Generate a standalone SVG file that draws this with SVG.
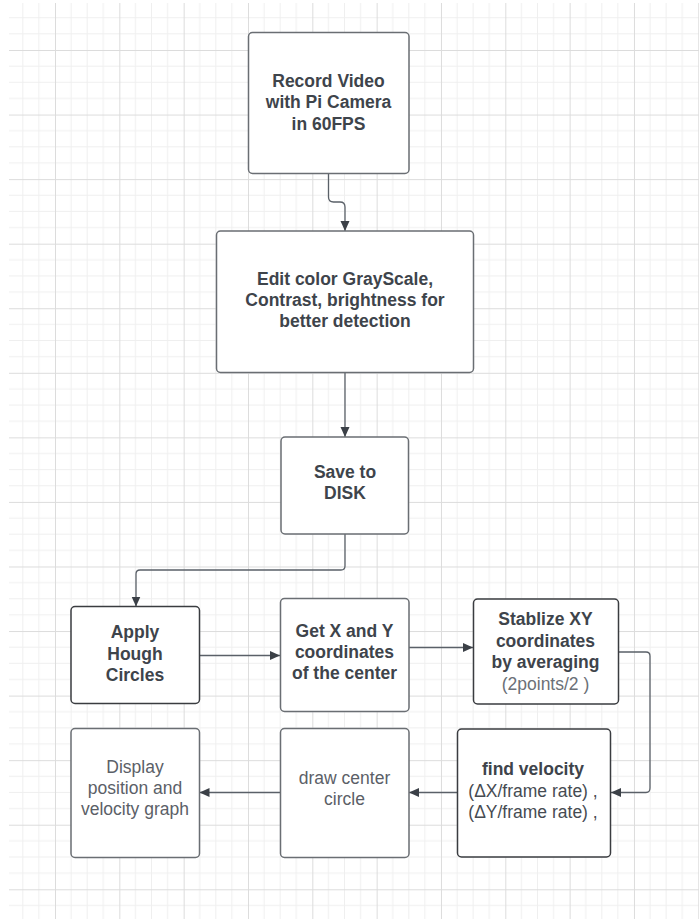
<svg xmlns="http://www.w3.org/2000/svg" width="699" height="919" viewBox="0 0 699 919">
  <defs>
    <pattern id="grid" patternUnits="userSpaceOnUse" x="55" y="50" width="64.33" height="64.56">
      <g stroke="#efefef" stroke-width="1">
        <line x1="16.08" y1="0" x2="16.08" y2="64.56"/>
        <line x1="32.17" y1="0" x2="32.17" y2="64.56"/>
        <line x1="48.25" y1="0" x2="48.25" y2="64.56"/>
        <line x1="0" y1="16.14" x2="64.33" y2="16.14"/>
        <line x1="0" y1="32.28" x2="64.33" y2="32.28"/>
        <line x1="0" y1="48.42" x2="64.33" y2="48.42"/>
      </g>
      <g stroke="#dcdcdc" stroke-width="1">
        <line x1="0.5" y1="0" x2="0.5" y2="64.56"/>
        <line x1="0" y1="0.5" x2="64.33" y2="0.5"/>
      </g>
    </pattern>
    <marker id="arrow" markerUnits="userSpaceOnUse" markerWidth="11" markerHeight="10" refX="10" refY="4.5" orient="auto">
      <path d="M0,0 L10,4.5 L0,9 z" fill="#3b4047"/>
    </marker>
  </defs>
  <style>
    .box { fill: #ffffff; stroke: #6a6e73; stroke-width: 1.5; }
    .dark { stroke: #3a3c40; }
    .b { font-family: "Liberation Sans", Arial, sans-serif; font-size: 17.5px; font-weight: bold; fill: #3e444b; text-anchor: middle; }
    .r { font-family: "Liberation Sans", Arial, sans-serif; font-size: 17.5px; fill: #5b6067; text-anchor: middle; }
    .rd { fill: #464b52; }
    .lt { fill: #6b7077; }
    .conn { fill: none; stroke: #5a6068; stroke-width: 1.3; marker-end: url(#arrow); }
  </style>
  <rect x="0" y="0" width="699" height="919" fill="#ffffff"/>
  <rect x="9" y="3" width="690" height="916" fill="url(#grid)"/>

  <g id="connectors">
    <path class="conn" d="M328.5 173 V197 Q328.5 202 333.5 202 H340 Q345 202 345 207 V231"/>
    <path class="conn" d="M345 372 V437"/>
    <path class="conn" d="M345 534 V566 Q345 570 341 570 H140 Q136 570 136 574 V606.5"/>
    <path class="conn" d="M199.5 655.5 H280"/>
    <path class="conn" d="M409 647.5 H473"/>
    <path class="conn" d="M618.5 652 H646 Q650 652 650 656 V788 Q650 792.5 646 792.5 H611"/>
    <path class="conn" d="M457 792.5 H409"/>
    <path class="conn" d="M280.5 792.5 H199.5"/>
  </g>

  <g id="n1">
    <rect class="box" x="248.5" y="32.5" width="160.5" height="141" rx="4"/>
    <text class="b" x="328.5" y="86.5">Record Video</text>
    <text class="b" x="328.5" y="108">with Pi Camera</text>
    <text class="b" x="328.5" y="129.5">in 60FPS</text>
  </g>

  <g id="n2">
    <rect class="box" x="216.5" y="231" width="257" height="141.5" rx="4"/>
    <text class="b" x="345" y="285">Edit color GrayScale,</text>
    <text class="b" x="345" y="306">Contrast, brightness for</text>
    <text class="b" x="345" y="327">better detection</text>
  </g>

  <g id="n3">
    <rect class="box" x="281" y="437" width="127.5" height="97" rx="4"/>
    <text class="b" x="345" y="478">Save to</text>
    <text class="b" x="345" y="499">DISK</text>
  </g>

  <g id="n4">
    <rect class="box dark" x="71" y="606.5" width="128.5" height="97" rx="4"/>
    <text class="b" x="135" y="638">Apply</text>
    <text class="b" x="135" y="659.5">Hough</text>
    <text class="b" x="135" y="681">Circles</text>
  </g>

  <g id="n5">
    <rect class="box" x="280.5" y="598.5" width="128.5" height="113" rx="4"/>
    <text class="b" x="344.5" y="636.5">Get X and Y</text>
    <text class="b" x="344.5" y="658">coordinates</text>
    <text class="b" x="344.5" y="679">of the center</text>
  </g>

  <g id="n6">
    <rect class="box dark" x="473.5" y="599" width="145" height="105" rx="4"/>
    <text class="b" x="545.5" y="625">Stablize XY</text>
    <text class="b" x="545.5" y="646.5">coordinates</text>
    <text class="b" x="545.5" y="668">by averaging</text>
    <text class="r lt" x="545.5" y="690">(2points/2 )</text>
  </g>

  <g id="n7">
    <rect class="box dark" x="457.5" y="729" width="153" height="128" rx="4"/>
    <text class="b" x="533" y="775">find velocity</text>
    <text class="r rd" x="533" y="797">(ΔX/frame rate) ,</text>
    <text class="r rd" x="533" y="818">(ΔY/frame rate) ,</text>
  </g>

  <g id="n8">
    <rect class="box" x="280.5" y="728.5" width="128.5" height="129" rx="4"/>
    <text class="r" x="344.5" y="784">draw center</text>
    <text class="r" x="344.5" y="805">circle</text>
  </g>

  <g id="n9">
    <rect class="box" x="71" y="728.5" width="128.5" height="129" rx="4"/>
    <text class="r" x="135" y="773">Display</text>
    <text class="r" x="135" y="794">position and</text>
    <text class="r" x="135" y="815">velocity graph</text>
  </g>
</svg>
